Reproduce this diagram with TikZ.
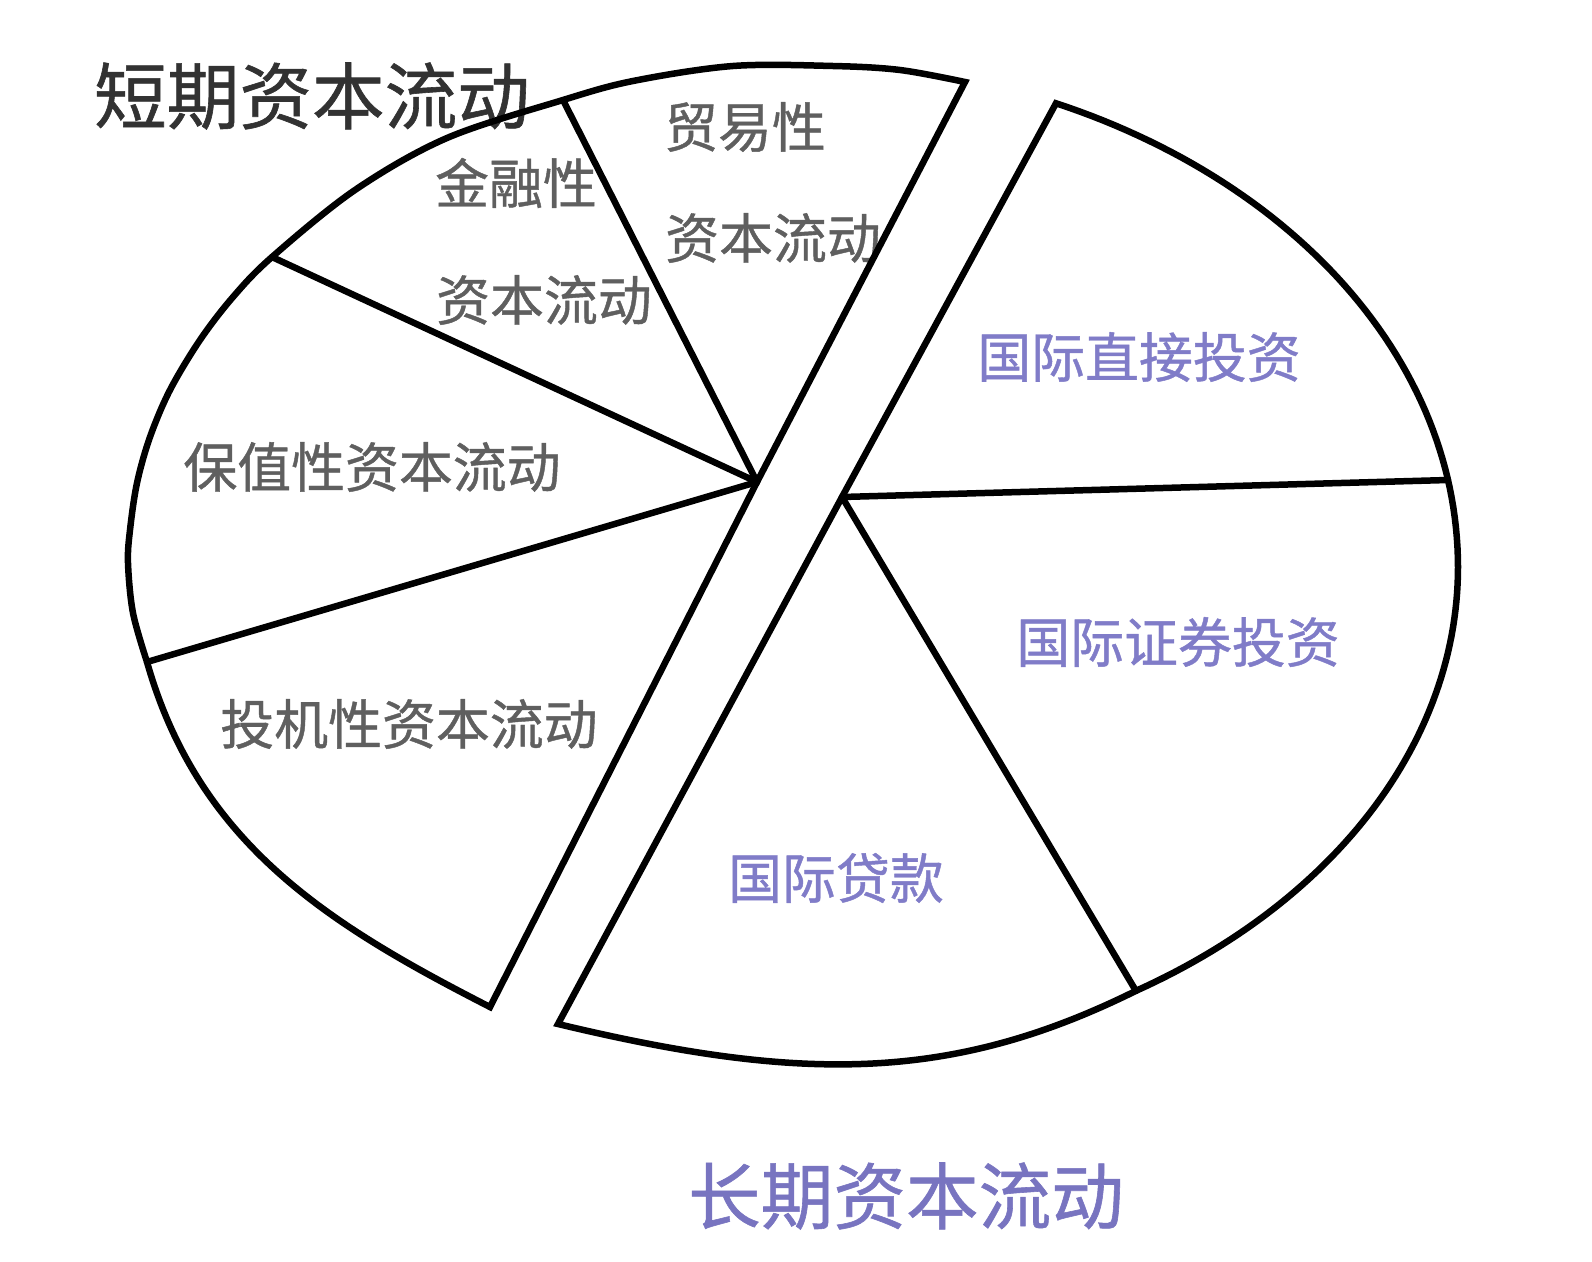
\documentclass[tikz,border=0pt]{standalone}
\usepackage{fontspec}
\setmainfont{Noto Sans CJK SC}
\newfontfamily\cjkm{Noto Sans CJK SC}[FakeBold=0.8]
\definecolor{lblgray}{RGB}{95,95,95}
\definecolor{ttlgray}{RGB}{50,50,50}
\definecolor{lblblue}{RGB}{128,124,200}
\definecolor{ttlblue}{RGB}{120,116,192}
\begin{document}
\begin{tikzpicture}[x=0.3mm, y=-0.3mm,
  outline/.style={line width=1.95mm, line join=miter, black},
  sector/.style={line width=1.95mm, line cap=round, black},
  lbl/.style={text=lblgray, font=\cjkm\fontsize{46}{50}\selectfont, inner sep=0pt},
  blbl/.style={text=lblblue, font=\cjkm\fontsize{46}{50}\selectfont, inner sep=0pt},
  ttl/.style={font=\cjkm\fontsize{62}{66}\selectfont, inner sep=0pt}]
\useasboundingbox (0,0) rectangle (1592,1262);
\fill[white] (0,0) rectangle (1592,1262);

% texts
\node[ttl, text=ttlgray] (t1) at (312,96) {短期资本流动};
\node[lbl] (l1) at (516,183) {金融性};
\node[lbl] (l2) at (544,300) {资本流动};
\node[lbl] (l3) at (745,127) {贸易性};
\node[lbl] (l4) at (773,238) {资本流动};
\node[lbl] (l5) at (372,467) {保值性资本流动};
\node[lbl] (l6) at (409,724) {投机性资本流动};
\node[blbl] (r1) at (1139,357) {国际直接投资};
\node[blbl] (r2) at (1178,642) {国际证券投资};
\node[blbl] (r3) at (836,878) {国际贷款};
\node[ttl, text=ttlblue] (t2) at (906,1196) {长期资本流动};

% left half (short-term)
\coordinate (O1) at (757,482);
\coordinate (B) at (965,82);
\coordinate (A) at (563,100);
\coordinate (D) at (272,257);
\coordinate (E) at (147,662);
\coordinate (C) at (490,1007);
\draw[outline] (C) -- (O1) -- plot[smooth, tension=0.55] coordinates {(965,82) (900,70) (833,66) (733,66) (633,81) (563,100) (447,138) (355,190) (272,257) (233,297) (200,340) (170,390) (150,437) (137,483) (130,530) (128,563) (133,613) (147,662)} .. controls (199,845) and (330,925) .. (C) -- cycle;
\draw[sector] (O1) -- (A);
\draw[sector] (O1) -- (D);
\draw[sector] (O1) -- (E);

% right half (long-term)
\coordinate (O2) at (842,497);
\coordinate (F) at (1056,103);
\coordinate (H) at (1448,480);
\coordinate (I) at (1136,991);
\coordinate (G) at (558,1024);
\draw[outline] (G) -- (O2)
  -- plot[domain=-66.42:0, samples=60, variable=\t] ({788+670*cos(\t)}, {567+506*sin(\t)})
  -- plot[domain=0:58.7, samples=60, variable=\t] ({788+670*cos(\t)}, {567+496*sin(\t)})
  .. controls (950,1083) and (800,1082) .. (G) -- cycle;
\draw[sector] (O2) -- (H);
\draw[sector] (O2) -- (I);
\end{tikzpicture}
\end{document}
